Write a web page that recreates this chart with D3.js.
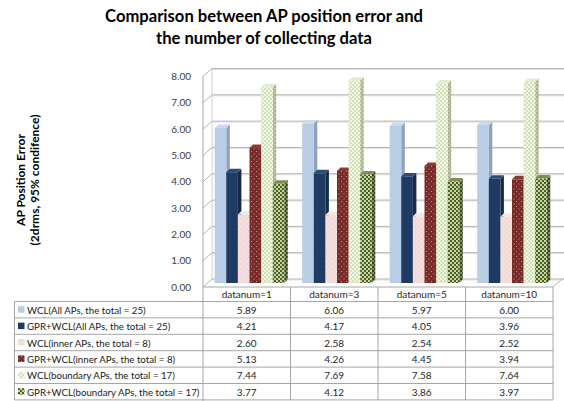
<!DOCTYPE html>
<html>
<head>
<meta charset="utf-8">
<script src="https://cdn.jsdelivr.net/npm/d3@7"></script>
<style>
  body { margin: 0; background: #fff; }
  svg { display: block; }
  text { font-family: Lato, "Open Sans", sans-serif; }
</style>
</head>
<body>
<svg id="chart" width="564" height="401"></svg>
<script>
// ---- data ----
const categories = ["datanum=1", "datanum=3", "datanum=5", "datanum=10"];
const seriesNames = [
  "WCL(All APs, the total = 25)",
  "GPR+WCL(All APs, the total = 25)",
  "WCL(inner APs, the total = 8)",
  "GPR+WCL(inner APs, the total = 8)",
  "WCL(boundary APs, the total = 17)",
  "GPR+WCL(boundary APs, the total = 17)"
];
const wclAll      = [5.89, 6.06, 5.97, 6.00];
const gprWclAll   = [4.21, 4.17, 4.05, 3.96];
const wclInner    = [2.60, 2.58, 2.54, 2.52];
const gprWclInner = [5.13, 4.26, 4.45, 3.94];
const wclBound    = [7.44, 7.69, 7.58, 7.64];
const gprWclBound = [3.77, 4.12, 3.86, 3.97];
const yTicks = [0, 1, 2, 3, 4, 5, 6, 7, 8];
const titleLines = ["Comparison between AP position error and", "the number of collecting data"];
const yTitleLines = ["AP Position Error", "(2drms, 95% condifence)"];

const seriesValues = [wclAll, gprWclAll, wclInner, gprWclInner, wclBound, gprWclBound];

// ---- styling for each series: front fill, side fill, top fill ----
const styles = [
  { front: "#b9cde5", side: "#8ea2bc", top: "#cbdaec" },
  { front: "#1f3b63", side: "#142b49", top: "#2d4c77" },
  { front: "url(#pPink)", side: "#cdb7b6", top: "#f6e6e5" },
  { front: "url(#pRed)", side: "#4e1b1a", top: "#8a3a37" },
  { front: "url(#pLightGreen)", side: "url(#pLightGreenSide)", top: "#e3ebd0" },
  { front: "url(#pDarkGreen)", side: "url(#pDarkGreenSide)", top: "#7d8f55" }
];

const svg = d3.select("#chart");
const W = 564, H = 401;

// ---- patterns ----
const defs = svg.append("defs");
function checker(id, bg, fg, size) {
  const p = defs.append("pattern").attr("id", id).attr("patternUnits", "userSpaceOnUse")
    .attr("width", size * 2).attr("height", size * 2);
  p.append("rect").attr("width", size * 2).attr("height", size * 2).attr("fill", bg);
  p.append("rect").attr("width", size).attr("height", size).attr("fill", fg);
  p.append("rect").attr("x", size).attr("y", size).attr("width", size).attr("height", size).attr("fill", fg);
}
function dots(id, bg, fg, step) {
  const p = defs.append("pattern").attr("id", id).attr("patternUnits", "userSpaceOnUse")
    .attr("width", step).attr("height", step);
  p.append("rect").attr("width", step).attr("height", step).attr("fill", bg);
  p.append("rect").attr("x", 1).attr("y", 1).attr("width", 1).attr("height", 1).attr("fill", fg);
  p.append("rect").attr("x", 1 + step / 2).attr("y", 1 + step / 2).attr("width", 1).attr("height", 1).attr("fill", fg);
}
checker("pLightGreen", "#f1f6e7", "#d3e1b7", 2);
checker("pLightGreenSide", "#c3c9ac", "#a6ae8a", 2);
checker("pDarkGreen", "#4b5e25", "#c6d7a0", 2);
checker("pDarkGreenSide", "#34421a", "#7f8c5e", 2);
dots("pRed", "#772c2a", "#c98d8b", 5);
dots("pPink", "#f2dcdb", "#fbf1f0", 5);

// ---- geometry ----
const plotLeft = 203, plotRight = 553;
const wallDX = 9, wallDY = -8;      // back wall offset
const barDX = 4.5, barDY = -4;      // bars sit at mid-depth
const sideX = 3.5, sideY = -3.5;    // bar depth
const barW = 11.6;

const y = d3.scaleLinear().domain([0, 8]).range([287, 76.5]);
const x0 = d3.scaleBand().domain(categories).range([plotLeft, plotRight]).padding(0);
const x1 = d3.scaleBand().domain(d3.range(seriesNames.length)).range([0, barW * seriesNames.length]).padding(0);

const gridColor = "#b4b4b4";

// ---- walls and gridlines ----
const walls = svg.append("g");
yTicks.forEach(t => {
  const yf = y(t), yb = y(t) + wallDY;
  walls.append("line").attr("x1", plotLeft + wallDX).attr("x2", W).attr("y1", yb + 1).attr("y2", yb + 1)
    .attr("stroke", "#e2e2e2").attr("stroke-width", 1);
  walls.append("line").attr("x1", plotLeft + wallDX).attr("x2", W).attr("y1", yb).attr("y2", yb)
    .attr("stroke", gridColor).attr("stroke-width", 1);
  walls.append("line").attr("x1", plotLeft).attr("x2", plotLeft + wallDX).attr("y1", yf).attr("y2", yb)
    .attr("stroke", gridColor).attr("stroke-width", 1);
});
// left wall edges
walls.append("line").attr("x1", plotLeft + wallDX).attr("x2", plotLeft + wallDX)
  .attr("y1", y(8) + wallDY).attr("y2", y(0) + wallDY).attr("stroke", "#d0d0d0");
walls.append("line").attr("x1", plotLeft).attr("x2", plotLeft)
  .attr("y1", y(8)).attr("y2", H).attr("stroke", "#a6a6a6");
// floor right edge
walls.append("line").attr("x1", plotRight).attr("x2", plotRight + wallDX)
  .attr("y1", y(0)).attr("y2", y(0) + wallDY).attr("stroke", gridColor);

// ---- y tick labels ----
svg.append("g").selectAll("text").data(yTicks).join("text")
  .attr("x", 191).attr("y", d => y(d) + 3.5)
  .attr("text-anchor", "end").attr("font-size", 10).attr("fill", "#404040")
  .text(d => d3.format(".2f")(d));

// ---- bars ----
const barsG = svg.append("g");
categories.forEach((cat, ci) => {
  const gx = x0(cat) + barDX + (x0.bandwidth() - barW * seriesNames.length - sideX) / 2;
  seriesValues.forEach((vals, si) => {
    const v = vals[ci];
    const fx = gx + x1(si);
    const yt = y(v) + barDY, yb = y(0) + barDY;
    const st = styles[si];
    const g = barsG.append("g");
    g.append("polygon")
      .attr("points", [[fx + barW, yt], [fx + barW + sideX, yt + sideY], [fx + barW + sideX, yb + sideY], [fx + barW, yb]].join(" "))
      .attr("fill", st.side);
    g.append("polygon")
      .attr("points", [[fx, yt], [fx + sideX, yt + sideY], [fx + barW + sideX, yt + sideY], [fx + barW, yt]].join(" "))
      .attr("fill", st.top);
    g.append("rect").attr("x", fx).attr("y", yt).attr("width", barW).attr("height", yb - yt)
      .attr("fill", st.front);
  });
});

// ---- title ----
svg.append("g").selectAll("text").data(titleLines).join("text")
  .attr("x", 264).attr("y", (d, i) => 22 + i * 22)
  .attr("text-anchor", "middle").attr("font-size", 16.6).attr("font-weight", "bold").attr("fill", "#000")
  .text(d => d);

// ---- y axis title ----
svg.append("g").selectAll("text").data(yTitleLines).join("text")
  .attr("transform", (d, i) => `translate(${24.5 + i * 14.5},180) rotate(-90)`)
  .attr("text-anchor", "middle").attr("font-size", 12).attr("font-weight", "bold").attr("fill", "#000")
  .text(d => d);

// ---- data table ----
const tableLeft = 14.5;
const headTop = y(0), headBottom = 301.5, rowH = 16.4;
const rowsTop = headBottom;
const tableBottom = rowsTop + rowH * seriesNames.length;
const lineColor = "#a6a6a6";
const tbl = svg.append("g");

// header top border (front floor edge)
tbl.append("line").attr("x1", plotLeft).attr("x2", plotRight).attr("y1", headTop).attr("y2", headTop)
  .attr("stroke", lineColor);
// horizontal row lines
d3.range(seriesNames.length + 1).forEach(i => {
  const yy = rowsTop + i * rowH;
  tbl.append("line").attr("x1", tableLeft).attr("x2", plotRight).attr("y1", yy).attr("y2", yy)
    .attr("stroke", lineColor);
});
// vertical lines
tbl.append("line").attr("x1", tableLeft).attr("x2", tableLeft).attr("y1", rowsTop).attr("y2", tableBottom)
  .attr("stroke", lineColor);
categories.forEach(cat => {
  const xr = x0(cat) + x0.bandwidth();
  tbl.append("line").attr("x1", xr).attr("x2", xr).attr("y1", headTop).attr("y2", tableBottom)
    .attr("stroke", lineColor);
});

// category labels
tbl.selectAll("text.cat").data(categories).join("text").attr("class", "cat")
  .attr("x", d => x0(d) + x0.bandwidth() / 2).attr("y", headTop + 10.5)
  .attr("text-anchor", "middle").attr("font-size", 10).attr("fill", "#262626")
  .text(d => d);

// legend rows
const keyFills = ["#b9cde5", "#1f3b63", "#f2dcdb", "url(#pRed)", "url(#pLightGreen)", "url(#pDarkGreen)"];
seriesNames.forEach((name, si) => {
  const rt = rowsTop + si * rowH;
  tbl.append("rect").attr("x", 18).attr("y", rt + rowH / 2 - 3.5).attr("width", 6.5).attr("height", 6.5)
    .attr("fill", keyFills[si]);
  tbl.append("text").attr("x", 27).attr("y", rt + rowH / 2 + 4)
    .attr("font-size", 9.7).attr("fill", "#1a1a1a").text(name);
  categories.forEach((cat, ci) => {
    tbl.append("text").attr("x", x0(cat) + x0.bandwidth() / 2).attr("y", rt + rowH / 2 + 4)
      .attr("text-anchor", "middle").attr("font-size", 10).attr("fill", "#262626")
      .text(d3.format(".2f")(seriesValues[si][ci]));
  });
});
</script>
</body>
</html>
